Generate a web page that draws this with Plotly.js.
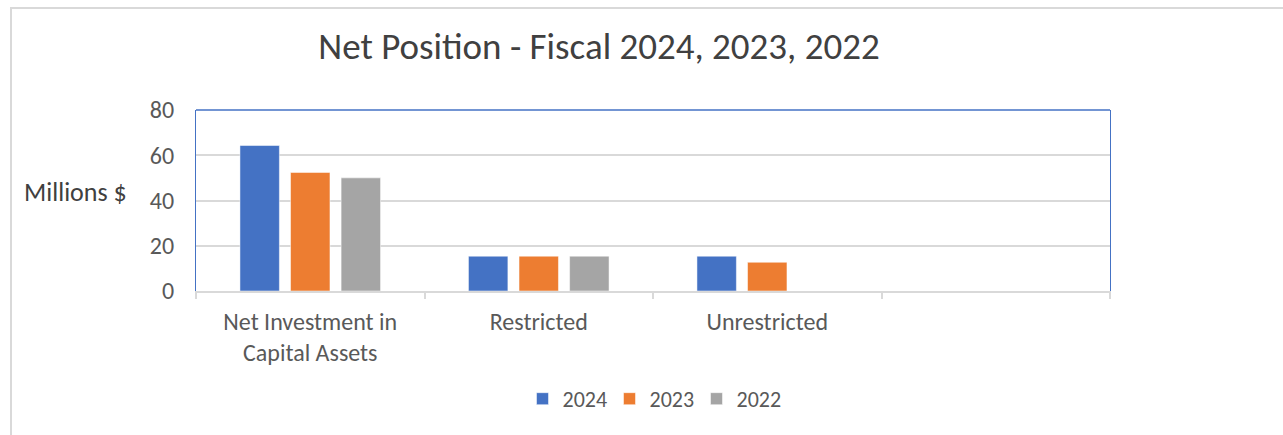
<!DOCTYPE html>
<html>
<head>
<meta charset="utf-8">
<script src="https://cdn.plot.ly/plotly-3.0.1.min.js"></script>
<style>
  html, body { margin: 0; padding: 0; background: #fff; }
  #wrap { position: relative; width: 1283px; height: 435px; }
  #chart { width: 1283px; height: 435px; }
  #frame { position: absolute; left: 10px; top: 7px; width: 1290px; height: 440px;
           border: 2px solid #d9d9d9; box-sizing: border-box; pointer-events: none; }
</style>
</head>
<body>
<div id="wrap">
  <div id="chart"></div>
  <div id="frame"></div>
</div>
<script>
const categories = ["Net Investment in<br>Capital Assets", "Restricted", "Unrestricted", " "];
const years = ["2024", "2023", "2022"];
const values2024 = [64.3, 15.4, 15.4, null];
const values2023 = [52.4, 15.4, 12.7, null];
const values2022 = [50.0, 15.4, 0, null];
const colors = ["#4472c4", "#ed7d31", "#a5a5a5"];
const yTicks = [0, 20, 40, 60, 80];

const series = [values2024, values2023, values2022];
const traces = series.map((vals, i) => ({
  type: "bar",
  name: years[i],
  x: categories,
  y: vals,
  marker: { color: colors[i], line: { color: "rgba(255,255,255,0.5)", width: 1 } },
  hoverinfo: "skip"
}));

const font = "Calibri, Carlito, 'Open Sans', sans-serif";

const layout = {
  width: 1283,
  height: 435,
  margin: { l: 196, r: 173, t: 110, b: 144 },
  paper_bgcolor: "#ffffff",
  plot_bgcolor: "#ffffff",
  font: { family: font, color: "#595959", size: 24 },
  title: {
    text: "Net Position - Fiscal 2024, 2023, 2022",
    font: { family: font, size: 37, color: "#404040" },
    x: 599 / 1283, xref: "container", xanchor: "center",
    y: 0.893, yref: "container", yanchor: "middle"
  },
  barmode: "group",
  bargap: 0.336,
  bargroupgap: 0.22,
  xaxis: {
    type: "category",
    showgrid: false,
    showline: true,
    linecolor: "#d9d9d9",
    linewidth: 2,
    ticks: "outside",
    tickson: "boundaries",
    ticklen: 6,
    tickwidth: 2,
    tickcolor: "#d9d9d9",
    tickfont: { family: font, size: 24, color: "#595959" },
    ticklabelstandoff: 8,
    fixedrange: true
  },
  yaxis: {
    range: [0, 80],
    tickvals: yTicks,
    ticktext: yTicks.map(String),
    showgrid: true,
    gridcolor: "#d9d9d9",
    gridwidth: 2,
    showline: true,
    mirror: true,
    linecolor: "#4472c4",
    linewidth: 1,
    zeroline: false,
    ticks: "",
    tickfont: { family: font, size: 24, color: "#595959" },
    ticklabelstandoff: 16,
    fixedrange: true
  },
  shapes: [{
    type: "line", xref: "paper", yref: "paper",
    x0: 0, x1: 1, y0: 1, y1: 1,
    line: { color: "#4472c4", width: 1.5 }
  }],
  annotations: [{
    text: "Millions $",
    xref: "paper", yref: "paper",
    x: -0.19, y: 0.545,
    xanchor: "left", yanchor: "middle",
    showarrow: false,
    font: { family: font, size: 26, color: "#404040" }
  }],
  legend: {
    orientation: "h",
    x: 0.5, xanchor: "center",
    y: -0.48, yanchor: "top",
    font: { family: font, size: 22, color: "#595959" },
    entrywidth: 42,
    entrywidthmode: "pixels",
    traceorder: "normal"
  },
  showlegend: true
};

Plotly.newPlot("chart", traces, layout, { displayModeBar: false, staticPlot: true });
</script>
</body>
</html>
